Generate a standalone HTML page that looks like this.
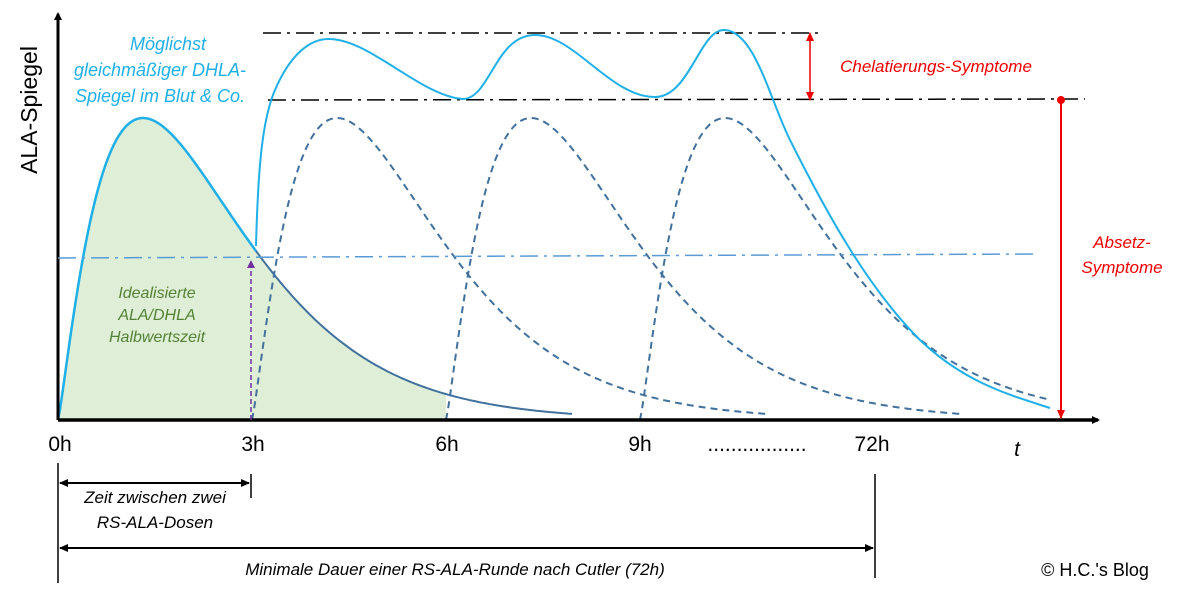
<!DOCTYPE html>
<html><head><meta charset="utf-8"><style>
html,body{margin:0;padding:0;background:#fff;width:1177px;height:611px;overflow:hidden}
svg text{font-family:"Liberation Sans",sans-serif}
</style></head><body>
<svg width="1177" height="611" viewBox="0 0 1177 611" xmlns="http://www.w3.org/2000/svg">
<defs>
<marker id="ab" markerWidth="8" markerHeight="8" refX="6" refY="4" orient="auto" markerUnits="userSpaceOnUse"><path d="M0,0 L8,4 L0,8 z" fill="#000"/></marker>
<marker id="abs" markerWidth="10" markerHeight="10" refX="8" refY="5" orient="auto-start-reverse" markerUnits="userSpaceOnUse"><path d="M0,1 L9,5 L0,9 z" fill="#000"/></marker>
<marker id="ar" markerWidth="10" markerHeight="10" refX="8" refY="5" orient="auto-start-reverse" markerUnits="userSpaceOnUse"><path d="M0,1 L9,5 L0,9 z" fill="#e00"/></marker>
<marker id="ap" markerWidth="8" markerHeight="8" refX="6" refY="4" orient="auto" markerUnits="userSpaceOnUse"><path d="M0,0 L8,4 L0,8 z" fill="#7030a0"/></marker>
</defs>
<g id="g"></g>
<line x1="58" y1="420" x2="58" y2="14" stroke="#000" stroke-width="3" marker-end="url(#ab)"/>
<line x1="58" y1="420" x2="1098" y2="420" stroke="#000" stroke-width="3.5" marker-end="url(#ab)"/>
<line x1="263" y1="33" x2="820" y2="33" stroke="#000" stroke-width="1.5" stroke-dasharray="18,6,3,6"/>
<line x1="268" y1="100" x2="1085" y2="99" stroke="#000" stroke-width="1.5" stroke-dasharray="18,6,3,6"/>
<line x1="58" y1="258" x2="1035" y2="254" stroke="#5b9bd5" stroke-width="1.5" stroke-dasharray="18,6,3,6"/>
<line x1="810" y1="33" x2="810" y2="100" stroke="#e00" stroke-width="1.5" marker-start="url(#ar)" marker-end="url(#ar)"/>
<line x1="1061" y1="100" x2="1061" y2="418" stroke="#e00" stroke-width="2" marker-end="url(#ar)"/>
<circle cx="1061" cy="100" r="4" fill="#e00"/>
<line x1="251" y1="420" x2="251" y2="262" stroke="#7030a0" stroke-width="1.5" stroke-dasharray="5,3" marker-end="url(#ap)"/>
<path d="M256,246 C258,170 262,120 275,90 C290,55 310,38 330,39 C370,40 420,95 462,99 C490,100 495,35 535,35 C575,35 610,97 655,97 C690,97 700,28 725,30 C755,32 770,100 790,140 C830,220 870,290 920,340 C965,383 1010,395 1050,408" fill="none" stroke="#1fb0e8" stroke-width="2"/>
<text transform="translate(37,110) rotate(-90)" text-anchor="middle" font-size="23">ALA-Spiegel</text>
<g font-size="18" font-style="italic" fill="#1fb0e8" text-anchor="middle">
<text x="168" y="50">Möglichst</text>
<text x="160" y="76">gleichmäßiger DHLA-</text>
<text x="160" y="102">Spiegel im Blut &amp; Co.</text>
</g>
<text x="936" y="72" font-size="17" font-style="italic" fill="#e00" text-anchor="middle">Chelatierungs-Symptome</text>
<text x="1122" y="248" font-size="17" font-style="italic" fill="#e00" text-anchor="middle">Absetz-</text>
<text x="1122" y="273" font-size="17" font-style="italic" fill="#e00" text-anchor="middle">Symptome</text>
<g font-size="16" font-style="italic" fill="#548235" text-anchor="middle">
<text x="157" y="298">Idealisierte</text>
<text x="157" y="320">ALA/DHLA</text>
<text x="157" y="342">Halbwertszeit</text>
</g>
<g font-size="21" text-anchor="middle">
<text x="60" y="451">0h</text><text x="253" y="451">3h</text><text x="447" y="451">6h</text>
<text x="640" y="451">9h</text><text x="872" y="451">72h</text>
<text x="757" y="451">.................</text>
<text x="1017" y="456" font-style="italic">t</text>
</g>
<line x1="58" y1="463" x2="58" y2="583" stroke="#000" stroke-width="1.5"/>
<line x1="251" y1="474" x2="251" y2="498" stroke="#000" stroke-width="1.5"/>
<line x1="875" y1="474" x2="875" y2="578" stroke="#000" stroke-width="1.5"/>
<line x1="60" y1="483" x2="249" y2="483" stroke="#000" stroke-width="2" marker-start="url(#abs)" marker-end="url(#abs)"/>
<line x1="60" y1="548" x2="873" y2="548" stroke="#000" stroke-width="2" marker-start="url(#abs)" marker-end="url(#abs)"/>
<g font-size="17" font-style="italic" text-anchor="middle">
<text x="155" y="503">Zeit zwischen zwei</text>
<text x="155" y="528">RS-ALA-Dosen</text>
<text x="455" y="575">Minimale Dauer einer RS-ALA-Runde nach Cutler (72h)</text>
</g>
<text x="1095" y="576" font-size="18" text-anchor="middle">© H.C.'s Blog</text>
</svg>
<script>
(function(){
var g=document.getElementById('g'),ns='http://www.w3.org/2000/svg';
function f(dt){if(dt<=0)return 0;var u=dt/85;return Math.pow(u*Math.exp(1-u),1.2);}
function pts(x0,x1,off){var s=[];for(var x=x0;x<=x1;x+=2){s.push(x+','+(420-302*f(x-off)).toFixed(1));}return s;}
var p=pts(58,446,58);
var fill=document.createElementNS(ns,'path');
fill.setAttribute('d','M58,420 L'+p.join(' L')+' L446,420 Z');fill.setAttribute('fill','#dfeed6');g.appendChild(fill);
function line(x0,x1,off,dash,col,w){var e=document.createElementNS(ns,'path');e.setAttribute('d','M'+pts(x0,x1,off).join(' L'));e.setAttribute('fill','none');e.setAttribute('stroke',col);e.setAttribute('stroke-width',w);if(dash)e.setAttribute('stroke-dasharray',dash);g.appendChild(e);}
line(58,572,58,null,'#41719c',2);
line(58,256,58,null,'#1fb0e8',2.5);
line(252,766,252,'7,5','#41719c',2);
line(446,960,446,'7,5','#41719c',2);
line(640,1050,640,'7,5','#41719c',2);
})();
</script>
</body></html>
